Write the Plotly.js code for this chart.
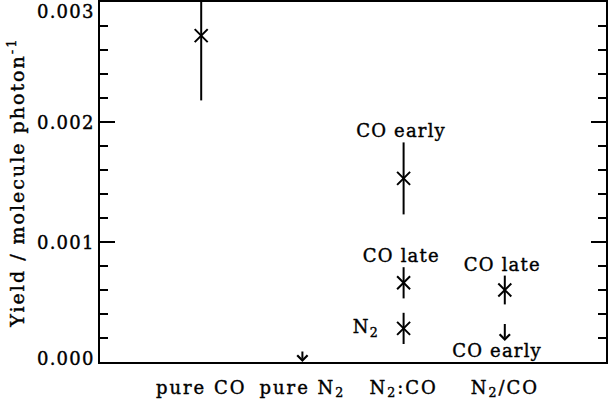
<!DOCTYPE html>
<html>
<head>
<meta charset="utf-8">
<script src="https://cdn.plot.ly/plotly-3.0.1.min.js"></script>
<style>
html, body { margin: 0; padding: 0; background: #fff; }
#chart { width: 608px; height: 402px; }
#chart text { letter-spacing: 1.2px; stroke: #000; stroke-width: 0.4px; }
#chart .xtick text { letter-spacing: 2px; }
#chart .ytitle { letter-spacing: 2px; }
</style>
</head>
<body>
<div id="chart"></div>
<script>
// Categories on the x axis
var categories = ['pure CO', 'pure N<sub>2</sub>', 'N<sub>2</sub>:CO', 'N<sub>2</sub>/CO'];
var categoryPos = [1, 2, 3, 4];

// Measured yields (molecule / photon) with symmetric errors
var pointCat   = [1, 3, 3, 3, 4];
var pointYield = [0.00272, 0.00153, 0.00066, 0.00028, 0.00060];
var pointErr   = [0.00054, 0.00030, 0.00013, 0.00013, 0.00012];
var pointLabel = ['', 'CO early', 'CO late', 'N<sub>2</sub>', 'CO late'];

// Upper limits (down arrows): arrow top and arrow tip
var limitCat   = [2, 4];
var limitTop   = [0.00010, 0.00033];
var limitTip   = [0.00000, 0.000175];
var limitLabel = ['', 'CO early'];

// Y tick labels
var yTickVals = [0, 0.001, 0.002, 0.003];
var yTickText = ['0.000', '0.001', '0.002', '0.003'];

var FONT = { family: 'DejaVu Serif', size: 18, color: '#000' };

var traces = [{
  type: 'scatter',
  mode: 'markers',
  x: pointCat,
  y: pointYield,
  error_y: { type: 'data', array: pointErr, visible: true, color: '#000', thickness: 2, width: 0 },
  marker: { symbol: 'x-thin-open', size: 13, color: '#000', line: { color: '#000', width: 2 } },
  cliponaxis: true,
  hoverinfo: 'skip'
}];

var annotations = [];

// tick labels on y axis
yTickVals.forEach(function (v, i) {
  var anchor = 'middle', ys = 0;
  if (i === 0) { anchor = 'bottom'; ys = -8; }
  if (i === yTickVals.length - 1) { anchor = 'top'; ys = 2; }
  annotations.push({
    xref: 'paper', yref: 'y', x: 0, y: v,
    text: yTickText[i], showarrow: false, borderpad: 0,
    xanchor: 'right', yanchor: anchor, xshift: -7, yshift: ys,
    font: FONT
  });
});

// labels on measured points
pointLabel.forEach(function (t, i) {
  if (!t) return;
  if (t.indexOf('N<sub>') === 0) {
    annotations.push({
      xref: 'x', yref: 'y', x: pointCat[i], y: pointYield[i],
      text: t, showarrow: false, xanchor: 'right', yanchor: 'middle',
      xshift: -24, font: FONT
    });
  } else {
    annotations.push({
      xref: 'x', yref: 'y', x: pointCat[i], y: pointYield[i] + pointErr[i],
      text: t, showarrow: false, xanchor: 'center', yanchor: 'bottom',
      xshift: -2, yshift: -1, font: FONT
    });
  }
});

// upper-limit arrows
limitCat.forEach(function (c, i) {
  annotations.push({
    xref: 'x', yref: 'y', axref: 'x', ayref: 'y',
    x: c, y: limitTip[i], ax: c, ay: limitTop[i],
    text: '', showarrow: true, arrowhead: 4, arrowsize: 1, arrowwidth: 2,
    arrowcolor: '#000', standoff: 0, startstandoff: 0
  });
  if (limitLabel[i]) {
    annotations.push({
      xref: 'x', yref: 'y', x: c, y: limitTip[i],
      text: limitLabel[i], showarrow: false, xanchor: 'center', yanchor: 'top',
      xshift: -7, yshift: 3, font: FONT
    });
  }
});

var layout = {
  width: 608, height: 402,
  margin: { l: 100, r: 2, t: 2, b: 40 },
  paper_bgcolor: '#fff', plot_bgcolor: '#fff',
  font: FONT,
  showlegend: false,
  xaxis: {
    range: [0, 5],
    tickmode: 'array', tickvals: categoryPos, ticktext: categories,
    ticks: '', showgrid: false, zeroline: false,
    showline: true, linewidth: 2, linecolor: '#000', mirror: true,
    ticklabelstandoff: 8,
    tickfont: FONT
  },
  yaxis: {
    range: [0, 0.003],
    tickmode: 'linear', tick0: 0, dtick: 0.001,
    ticks: 'inside', ticklen: 15, tickwidth: 2, tickcolor: '#000',
    minor: { dtick: 0.0002, ticks: 'inside', ticklen: 8, tickwidth: 2, tickcolor: '#000', showgrid: false },
    showticklabels: false,
    showgrid: false, zeroline: false,
    showline: true, linewidth: 2, linecolor: '#000', mirror: 'ticks',
    title: { text: 'Yield / molecule photon<sup>-1</sup>', font: { family: 'DejaVu Serif', size: 19, color: '#000' }, standoff: 68 }
  },
  annotations: annotations
};

Plotly.newPlot('chart', traces, layout, { staticPlot: true, displayModeBar: false });
</script>
</body>
</html>
